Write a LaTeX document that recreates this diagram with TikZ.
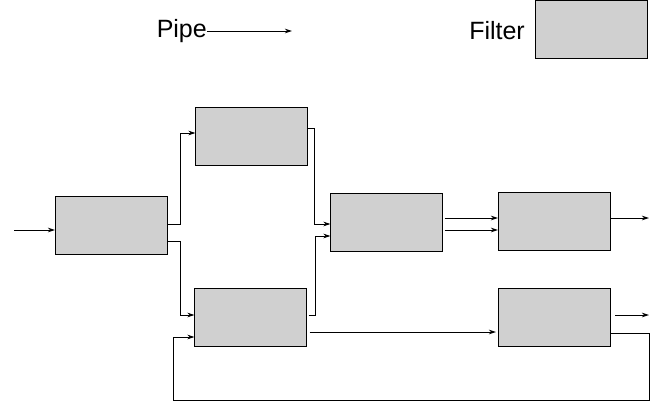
\documentclass[tikz,border=0pt]{standalone}
\usepackage{fontspec}
\setmainfont{Liberation Sans}
\usetikzlibrary{arrows.meta}
\definecolor{boxgray}{RGB}{208,208,208}
\tikzset{
  filter/.style={draw=black, fill=boxgray, line width=0.9pt, minimum width=112pt, minimum height=58pt, inner sep=0pt, outer sep=0pt},
  pipe/.style={draw=black, line width=0.9pt, -{Stealth[length=7pt,width=4.5pt,inset=2pt]}},
  plain/.style={draw=black, line width=0.9pt},
  lbl/.style={font=\fontsize{25}{29}\selectfont, inner sep=0pt}
}
\begin{document}
\begin{tikzpicture}[x=1pt,y=-1pt]
\useasboundingbox (0,0) rectangle (660,413);
% legend
\node[lbl, anchor=east] (pipeT) at (207,31) {Pipe};
\coordinate (pipeE) at (292,31);
\draw[pipe] (pipeT.east) -- (pipeE);
\node[lbl, anchor=east] (filterT) at (525,31) {Filter};
\node[filter] (L) at (591.5,29.5) {};
% filters
\node[filter] (A) at (111,225) {};
\node[filter] (B) at (251.5,136.5) {};
\node[filter] (C) at (250.5,317) {};
\node[filter] (D) at (386.5,222) {};
\node[filter] (E) at (554,221) {};
\node[filter] (F) at (554,317) {};
% connectors
\coordinate (in) at (14,230);
\draw[pipe] (in) -- (A.west |- 0,230);
\draw[pipe] (A.east |- 0,224) -- ++(13,0) |- (B.west |- 0,133);
\draw[pipe] (A.east |- 0,241) -- ++(13,0) |- (C.west |- 0,315);
\draw[pipe] (B.east |- 0,128) -- ++(7,0) |- (D.west |- 0,224);
\draw[pipe] ([xshift=2pt]C.east |- 0,315) -- ++(7,0) |- (D.west |- 0,236);
\draw[pipe] ([xshift=2pt]D.east |- 0,218) -- (E.west |- 0,218);
\draw[pipe] ([xshift=2pt]D.east |- 0,230) -- (E.west |- 0,230);
\coordinate (eout) at (649,218);
\draw[pipe] (E.east |- 0,218) -- (eout);
\coordinate (fo1) at (615,315);
\coordinate (fo2) at (649,315);
\draw[pipe] (fo1) -- (fo2);
\draw[pipe] ([xshift=3pt]C.east |- 0,332) -- ([xshift=-2pt]F.west |- 0,332);
\draw[pipe] (F.east |- 0,333) -- (649,333) -- (649,400) -- (173,400) |- (C.west |- 0,337);
\end{tikzpicture}
\end{document}
